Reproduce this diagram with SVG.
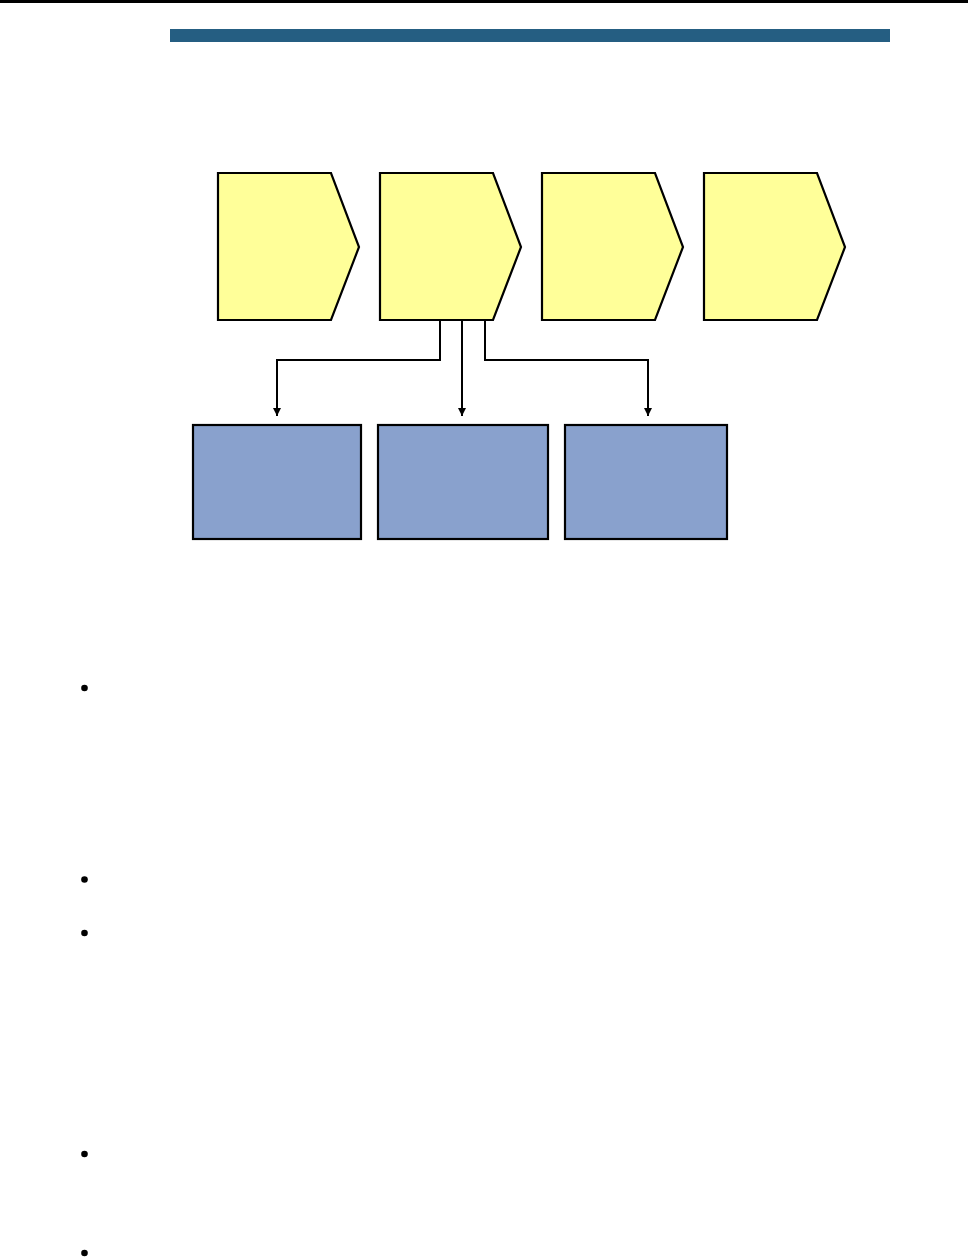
<svg xmlns="http://www.w3.org/2000/svg" width="968" height="1257" viewBox="0 0 968 1257">
<style>
.chev{fill:#FFFF99;stroke:#000;stroke-width:2.2;stroke-linejoin:miter}
.box{fill:#89A1CD;stroke:#000;stroke-width:2.2}
.conn{fill:none;stroke:#000;stroke-width:2}
.bullet{fill:#000}
</style>
<defs>
<marker id="arr" viewBox="0 0 8 8" refX="8" refY="4" markerWidth="8" markerHeight="8" markerUnits="userSpaceOnUse" orient="auto">
<path d="M0,0 L8,4 L0,8 z" fill="#000"/>
</marker>
</defs>
<rect x="0" y="0" width="968" height="3" fill="#000"/>
<rect x="170" y="29" width="720" height="13" fill="#255E82"/>
<g id="chevron1"><polygon class="chev" points="218,173 331,173 359,247 331,320 218,320"/></g>
<g id="chevron2"><polygon class="chev" points="380,173 493,173 521,247 493,320 380,320"/></g>
<g id="chevron3"><polygon class="chev" points="542,173 655,173 683,247 655,320 542,320"/></g>
<g id="chevron4"><polygon class="chev" points="704,173 817,173 845,247 817,320 704,320"/></g>
<g id="connectors">
<polyline class="conn" points="440,321 440,360 277,360 277,416" marker-end="url(#arr)"/>
<polyline class="conn" points="462,321 462,416" marker-end="url(#arr)"/>
<polyline class="conn" points="485,321 485,360 648,360 648,416" marker-end="url(#arr)"/>
</g>
<g id="box1"><rect class="box" x="193" y="425" width="168" height="114"/></g>
<g id="box2"><rect class="box" x="378" y="425" width="170" height="114"/></g>
<g id="box3"><rect class="box" x="565" y="425" width="162" height="114"/></g>
<circle class="bullet" cx="84.5" cy="688" r="3.3"/>
<circle class="bullet" cx="84.5" cy="879.5" r="3.3"/>
<circle class="bullet" cx="84.5" cy="933" r="3.3"/>
<circle class="bullet" cx="84.5" cy="1154" r="3.3"/>
<circle class="bullet" cx="84.5" cy="1253" r="3.3"/>
</svg>
